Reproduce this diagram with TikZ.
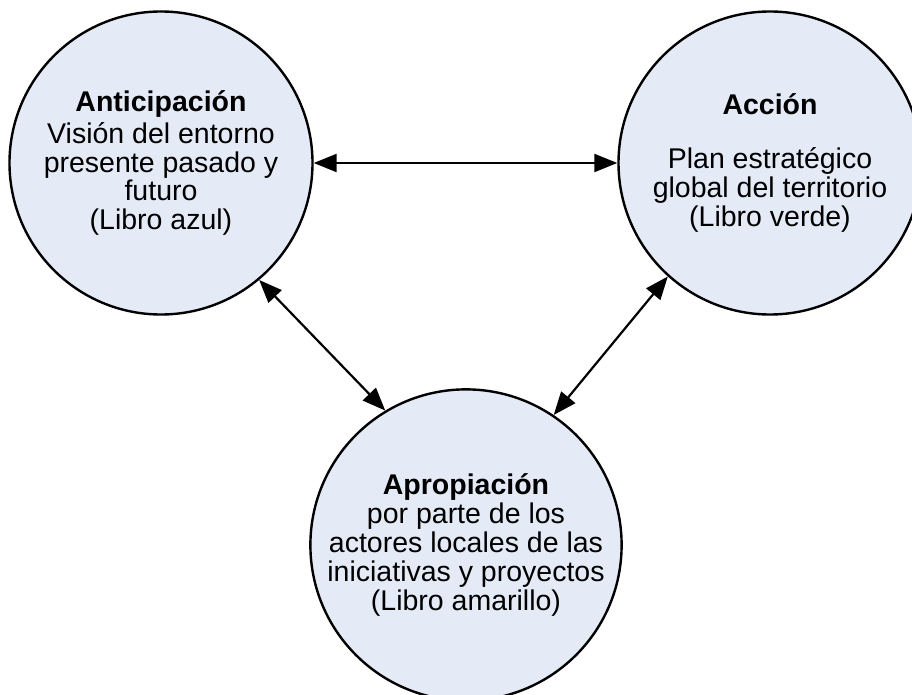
\documentclass[tikz,border=0pt]{standalone}
\usepackage{fontspec}
\setmainfont{Liberation Sans}
\usetikzlibrary{arrows.meta}
\definecolor{circfill}{RGB}{228,234,246}
\tikzset{
  bubble/.style={circle, draw=black, line width=2.4pt, fill=circfill,
    minimum size=303pt, inner sep=0pt, align=center,
    font=\fontsize{28.5}{28.8}\selectfont},
  link/.style={line width=2.2pt, {Triangle[length=23pt,width=18pt]}-{Triangle[length=23pt,width=18pt]}}
}
\begin{document}
\begin{tikzpicture}[x=1pt,y=-1pt]
\path[use as bounding box, clip] (0,0) rectangle (912,695);
\fill[white] (0,0) rectangle (912,695);
\node[bubble] (L) at (161,163) {\textbf{Anticipación}\\[3pt]Visión del entorno\\presente pasado y\\futuro\\(Libro azul)};
\node[bubble] (R) at (770,163) {\textbf{Acción}\\[25pt]Plan estratégico\\global del territorio\\(Libro verde)};
\node[bubble] (B) at (466,545) {\textbf{Apropiación}\\por parte de los\\actores locales de las\\iniciativas y proyectos\\(Libro amarillo)};
\draw[link] (L.0) -- (R.180);
\draw[link] (L.-50.2) -- (B.121.3);
\draw[link] (R.228.4) -- (B.56.8);
\end{tikzpicture}
\end{document}
